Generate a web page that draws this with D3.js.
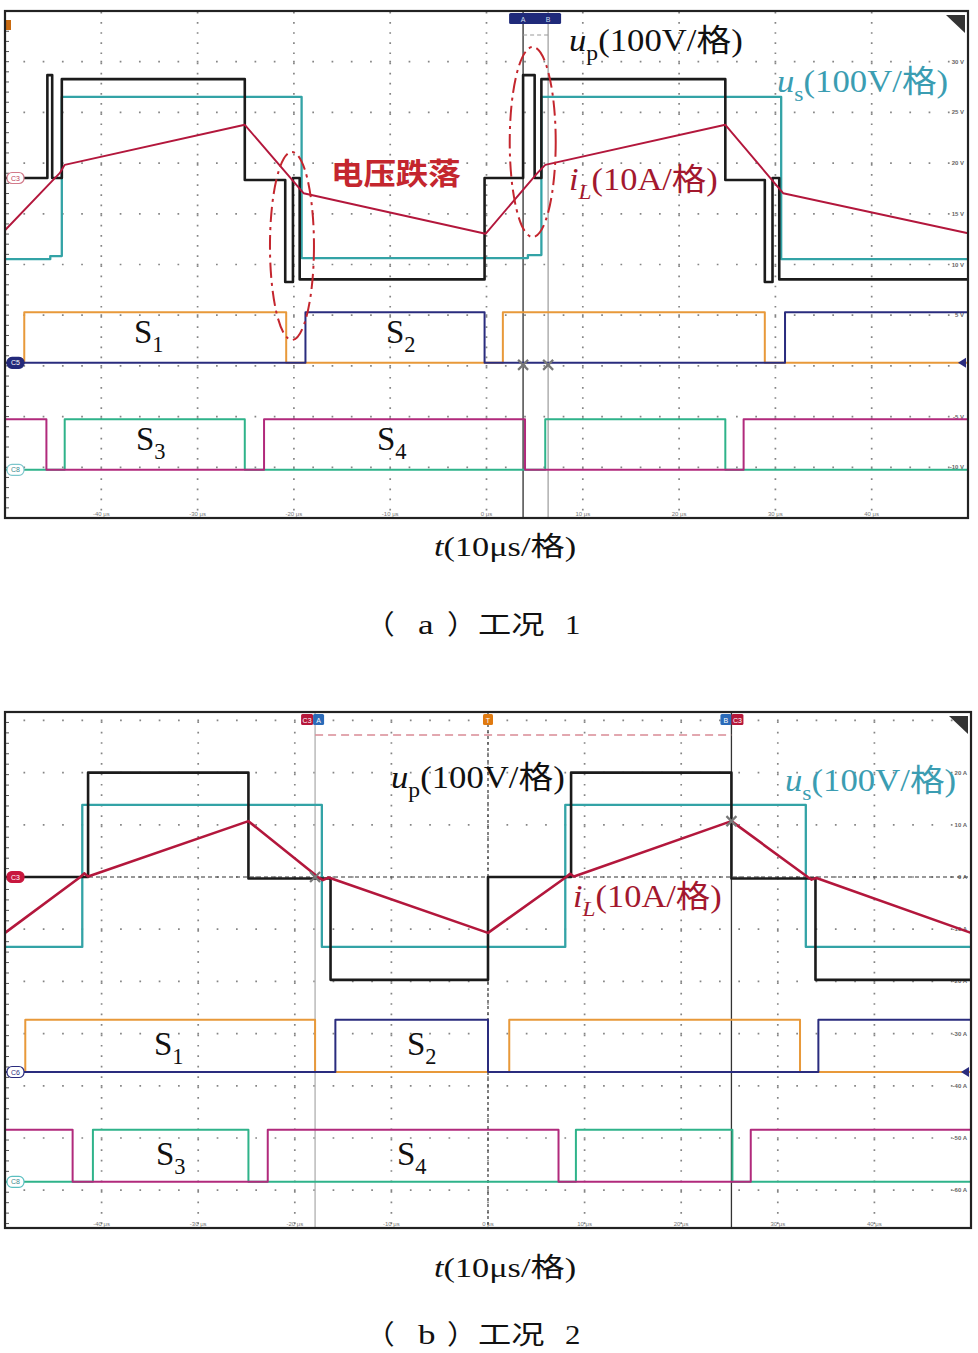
<!DOCTYPE html>
<html><head><meta charset="utf-8">
<script src="https://cdn.jsdelivr.net/npm/d3@7"></script>
<style>body{margin:0;background:#fff}svg{display:block}</style>
</head><body>
<svg id="c" width="978" height="1353"></svg>
<script>
// ================= DATA =================
// time axis: 10 μs per division, 10 divisions
const timeDomain = [0, 100];
const gridTimes = [10, 20, 30, 40, 50, 60, 70, 80, 90];
const timeTickLabels = ["-40 μs","-30 μs","-20 μs","-10 μs","0 μs","10 μs","20 μs","30 μs","40 μs"];

// ---- Case 1 (a) ----  [time μs, value]
const upA  = [[0,0],[4.4,203],[4.9,0],[5.9,195],[24.9,-4],[29.1,-205],[29.9,0],[30.6,-200],[49.8,0],[53.8,203],[55.0,0],[55.7,195],[74.8,-4],[78.9,-205],[79.7,0],[80.4,-200],[100,-200]];
const usA  = [[0,-160],[4.7,-154],[5.9,160],[30.8,-158],[54.3,-152],[55.7,160],[80.6,-160],[100,-160]];
const iLA  = [[0,-10.3],[5.7,1.0],[6.2,2.6],[24.9,10.5],[31.0,-3.0],[49.9,-11.0],[55.3,1.0],[56.1,2.6],[74.8,10.5],[80.8,-3.0],[100,-10.9]];
const S1A = [[2.0,29.2],[51.7,78.9]];
const S2A = [[31.2,49.8],[81.0,100]];
const S3A = [[6.2,24.9],[56.1,74.8]];
const S4A = [[0,4.3],[26.9,54.0],[76.7,100]];
const cursorsA = [53.8, 56.4];
const dropMarksA = [[29.8, -13.4], [54.8, 7.1]]; // [time μs, iL-scale centre] of the dash-dot ellipses
const rightLabelsA = [[4,"30 V"],[3,"25 V"],[2,"20 V"],[1,"15 V"],[0,"10 V"],[-1,"5 V"],[-3,"-5 V"],[-4,"-10 V"]];

// ---- Case 2 (b) ----
const upB  = [[0,0],[8.6,200],[25.2,-3],[33.7,-197],[50.0,0],[58.6,200],[75.2,-3],[83.9,-197],[100,-197]];
const usB  = [[0,-134],[8.0,138],[32.8,-134],[58.0,138],[82.9,-134],[100,-134]];
const iLB  = [[0,-10.7],[7.8,0],[8.2,0.7],[8.6,0.1],[25.2,10.7],[32.4,0],[32.9,-0.6],[33.5,-0.1],[50.0,-10.7],[58.1,0],[58.5,0.6],[58.9,0.1],[75.2,10.7],[83.1,0],[83.5,-0.5],[84.0,-0.2],[100,-10.7]];
const S1B = [[2.1,32.1],[52.2,82.3]];
const S2B = [[34.2,50.0],[84.2,100]];
const S3B = [[9.1,25.2],[59.1,75.3]];
const S4B = [[0,7.0],[27.2,57.3],[77.2,100]];
const cursorsB = [32.1, 75.2];
const triggerB = 50;
const rightLabelsB = [[3,"20 A"],[2,"10 A"],[1,"0 A"],[0,"-10 A"],[-1,"-20 A"],[-2,"-30 A"],[-3,"-40 A"],[-4,"-50 A"],[-5,"-60 A"]];

// ================= STYLE =================
const COL = {up:"#1b1b1b", us:"#33a3a6", iL:"#b3173c", S1:"#e8993a", S2:"#2a2c7e", S3:"#2fb38a", S4:"#b12a7c",
  usText:"#3b9db2", iLText:"#a3182e", drop:"#c4262e", grid:"#858585"};
const SERIF = "'Liberation Serif','Noto Sans CJK SC',serif";

const svg = d3.select("#c");

function gatePoints(iv){
  const pts = [[0, iv[0][0] <= 0 ? 1 : 0]];
  iv.forEach(([a,b]) => { if (a > 0) pts.push([a,1]); if (b < 100) pts.push([b,0]); });
  pts.push([100, pts[pts.length-1][1]]);
  return pts;
}

function richText(g, x, y, size, sx, color, parts, anchor){
  const t = g.append("text").attr("transform", `translate(${x},${y}) scale(${sx},1)`)
    .attr("font-family", SERIF).attr("font-size", size).attr("fill", color)
    .attr("text-anchor", anchor || "start");
  let shifted = 0;
  parts.forEach(p => {
    const ts = t.append("tspan").text(p.t);
    if (p.i) ts.attr("font-style", "italic");
    if (p.sub) { ts.attr("font-size", size*0.68).attr("dy", size*0.28); shifted = size*0.28; }
    else if (shifted) { ts.attr("dy", -shifted); shifted = 0; }
    if (p.b) ts.attr("font-weight", 700);
  });
  return t;
}

function tag(g, x, y, label, fill, stroke, txt){
  g.append("rect").attr("x", x).attr("y", y-5.5).attr("width", 17).attr("height", 11).attr("rx", 5)
    .attr("fill", fill).attr("stroke", stroke).attr("stroke-width", 1.2);
  g.append("text").attr("x", x+8.5).attr("y", y+2.5).attr("text-anchor","middle")
    .attr("font-family","Liberation Sans").attr("font-size", 7).attr("fill", txt).text(label);
}

function panel(cfg){
  const g = svg.append("g");
  const x = d3.scaleLinear().domain(timeDomain).range([cfg.x0, cfg.x1]);
  const scr = d3.scaleLinear().domain([-5, 5]).range(cfg.yRange); // screen divisions
  const divH = Math.abs(scr(1) - scr(0)), divW = x(10) - x(0);
  const chan = (off, perDiv) => (v => scr(off + v / perDiv));
  const yUp = chan(cfg.c3, 100), yI = chan(cfg.c3, 10);
  const yG5 = chan(cfg.c5, 1), yG8 = chan(cfg.c8, 1);

  // dotted graticule
  gridTimes.forEach(t => {
    g.append("line").attr("x1", x(t)).attr("x2", x(t)).attr("y1", cfg.top).attr("y2", cfg.bottom)
      .attr("stroke", COL.grid).attr("stroke-width", 1.7)
      .attr("stroke-dasharray", `1.7,${divH/5-1.7}`).attr("stroke-dashoffset", -(scr(cfg.rows[0]) - cfg.top) % (divH/5) - 0.85 + (divH/5));
  });
  cfg.rows.forEach(r => {
    g.append("line").attr("x1", cfg.x0).attr("x2", cfg.x1).attr("y1", scr(r)).attr("y2", scr(r))
      .attr("stroke", COL.grid).attr("stroke-width", 1.7)
      .attr("stroke-dasharray", `1.7,${divW/5-1.7}`).attr("stroke-dashoffset", 0.85);
  });
  // left ruler ticks
  d3.range(cfg.top, cfg.bottom, divH/5).forEach(yy => {
    g.append("line").attr("x1", cfg.x0).attr("x2", cfg.x0+4).attr("y1", yy).attr("y2", yy)
      .attr("stroke", "#555").attr("stroke-width", 1);
  });
  // bottom tick labels
  gridTimes.forEach((t,i) => {
    g.append("text").attr("x", x(t)).attr("y", cfg.bottom - 2).attr("text-anchor","middle")
      .attr("font-family","Liberation Sans").attr("font-size", 6).attr("fill", "#777").text(timeTickLabels[i]);
  });
  // right scale labels
  cfg.rightLabels.forEach(([r, s]) => {
    g.append("text").attr("x", cfg.x1 - 4).attr("y", scr(r) + 2).attr("text-anchor","end")
      .attr("font-family","Liberation Sans").attr("font-size", 6).attr("font-weight",700).attr("fill", "#666").text(s);
  });

  if (cfg.extra) cfg.extra(g, x, scr, yUp, yI);

  const stepLine = (yf) => d3.line().x(d => x(d[0])).y(d => yf(d[1])).curve(d3.curveStepAfter);
  const linLine = (yf) => d3.line().x(d => x(d[0])).y(d => yf(d[1]));
  const draw = (data, gen, color, w) => g.append("path").attr("d", gen(data)).attr("fill","none")
    .attr("stroke", color).attr("stroke-width", w).attr("stroke-linejoin","round");

  // gate signals
  draw(gatePoints(cfg.S1), stepLine(yG5), COL.S1, 2);
  draw(gatePoints(cfg.S2), stepLine(yG5), COL.S2, 2);
  draw(gatePoints(cfg.S3), stepLine(yG8), COL.S3, 2);
  draw(gatePoints(cfg.S4), stepLine(yG8), COL.S4, 2);
  // power traces
  draw(cfg.us, stepLine(yUp), COL.us, 2.3);
  draw(cfg.up, stepLine(yUp), COL.up, 2.6);
  draw(cfg.iL, linLine(yI), COL.iL, cfg.iLw);

  // channel tags
  cfg.tags.forEach(([lab, off, fill, stroke, txt]) => tag(g, cfg.x0 + 2, scr(off), lab, fill, stroke, txt));
  const ay = scr(cfg.c5);
  g.append("path").attr("d", `M${cfg.x1-2},${ay-5} L${cfg.x1-10},${ay} L${cfg.x1-2},${ay+5}Z`).attr("fill", COL.S2);
  g.append("path").attr("d", `M${cfg.x1-22},${cfg.top+4} L${cfg.x1-3},${cfg.top+4} L${cfg.x1-3},${cfg.top+22}Z`).attr("fill", "#333");

  // border
  g.append("rect").attr("x", cfg.x0).attr("y", cfg.top).attr("width", cfg.x1 - cfg.x0).attr("height", cfg.bottom - cfg.top)
    .attr("fill","none").attr("stroke","#222").attr("stroke-width", 2.2);

  if (cfg.labels) cfg.labels(g, x, scr, yUp, yI, yG5, yG8);
  return g;
}

function xMark(g, cx, cy){
  g.append("path").attr("d", `M${cx-5},${cy-5}L${cx+5},${cy+5}M${cx-5},${cy+5}L${cx+5},${cy-5}`)
    .attr("stroke", "#777").attr("stroke-width", 2.2);
}

function boxMark(g, x, y, w, fill, lab){
  g.append("rect").attr("x", x).attr("y", y).attr("width", w).attr("height", 11).attr("fill", fill).attr("rx", 1.5);
  g.append("text").attr("x", x + w/2).attr("y", y + 8.5).attr("text-anchor","middle")
    .attr("font-family","Liberation Sans").attr("font-size", 7).attr("fill","#fff").text(lab);
}

// ---------- Panel (a) ----------
panel({
  x0: 5, x1: 968, top: 11, bottom: 518, yRange: [518, 11], rows: [4,3,2,1,0,-1,-2,-3,-4],
  c3: 1.706, c5: -1.94, c8: -4.05,
  up: upA, us: usA, iL: iLA, iLw: 1.9, S1: S1A, S2: S2A, S3: S3A, S4: S4A,
  rightLabels: rightLabelsA,
  tags: [["C3", 1.706, "#fff", "#d27a8a", "#c0405a"], ["C5", -1.94, "#23297a", "#23297a", "#fff"], ["C8", -4.05, "#fff", "#7cc6cc", "#3a8a90"]],
  extra: (g, x, scr) => {
    g.append("line").attr("x1", x(cursorsA[0])).attr("x2", x(cursorsA[0])).attr("y1", 11).attr("y2", 518).attr("stroke", "#555").attr("stroke-width", 1.6);
    g.append("line").attr("x1", x(cursorsA[1])).attr("x2", x(cursorsA[1])).attr("y1", 11).attr("y2", 518).attr("stroke", "#aaa").attr("stroke-width", 1.4);
    g.append("line").attr("x1", x(cursorsA[0])).attr("x2", x(cursorsA[1])).attr("y1", 35).attr("y2", 35).attr("stroke", "#999").attr("stroke-width", 1).attr("stroke-dasharray", "4,3");
    boxMark(g, x(cursorsA[0]) - 14, 13, 52, "#1f2a7a", "");
    ["A","B"].forEach((s,i) => g.append("text").attr("x", x(cursorsA[i])).attr("y", 21.5).attr("text-anchor","middle")
      .attr("font-family","Liberation Sans").attr("font-size", 7).attr("fill","#cde").text(s));
    g.append("rect").attr("x", 6).attr("y", 20).attr("width", 5).attr("height", 10).attr("fill", "#c96a10");
  },
  labels: (g, x, scr, yUp, yI, yG5, yG8) => {
    xMark(g, x(cursorsA[0]), yG5(0) + 2);
    xMark(g, x(cursorsA[1]), yG5(0) + 2);
    dropMarksA.forEach(([t, v], i) => {
      g.append("ellipse").attr("cx", x(t)).attr("cy", yI(v)).attr("rx", 22 + i).attr("ry", 94 + i)
        .attr("fill","none").attr("stroke", COL.drop).attr("stroke-width", 2).attr("stroke-dasharray", "15,5,3,5");
    });
    richText(g, 569, 51, 31, 1.12, "#111", [{t:"u", i:true},{t:"p", sub:true},{t:"(100V/格)"}]);
    richText(g, 777, 92, 31, 1.12, COL.usText, [{t:"u", i:true},{t:"s", sub:true},{t:"(100V/格)"}]);
    richText(g, 569, 190, 31, 1.11, COL.iLText, [{t:"i", i:true},{t:"L", sub:true, i:true},{t:"(10A/格)"}]);
    g.append("text").attr("transform", "translate(331,184) scale(1.08,1)").attr("font-family","'Noto Sans CJK SC'")
      .attr("font-weight", 700).attr("font-size", 30).attr("fill", COL.drop).text("电压跌落");
    richText(g, 134, 343, 33, 1.0, "#111", [{t:"S"},{t:"1", sub:true}]);
    richText(g, 386, 343, 33, 1.0, "#111", [{t:"S"},{t:"2", sub:true}]);
    richText(g, 136, 450, 33, 1.0, "#111", [{t:"S"},{t:"3", sub:true}]);
    richText(g, 377, 450, 33, 1.0, "#111", [{t:"S"},{t:"4", sub:true}]);
  }
});

// ---------- Panel (b) ----------
panel({
  x0: 5, x1: 971, top: 712, bottom: 1228, yRange: [1190.2, 1190.2 - 52.2*10], rows: [4,3,2,1,0,-1,-2,-3,-4,-5],
  c3: 1, c5: -2.736, c8: -4.84,
  up: upB, us: usB, iL: iLB, iLw: 2.6, S1: S1B, S2: S2B, S3: S3B, S4: S4B,
  rightLabels: rightLabelsB,
  tags: [["C3", 1, "#c8173e", "#c8173e", "#fff"], ["C6", -2.736, "#fff", "#2a2c7e", "#2a2c7e"], ["C8", -4.84, "#fff", "#5abfc0", "#3a8a90"]],
  extra: (g, x, scr, yUp, yI) => {
    g.append("line").attr("x1", 5).attr("x2", 971).attr("y1", yI(0)).attr("y2", yI(0)).attr("stroke", "#333").attr("stroke-width", 1).attr("stroke-dasharray", "4,3");
    g.append("line").attr("x1", x(triggerB)).attr("x2", x(triggerB)).attr("y1", 712).attr("y2", 1228).attr("stroke", "#444").attr("stroke-width", 1.3).attr("stroke-dasharray", "3,3");
    g.append("line").attr("x1", x(cursorsB[0])).attr("x2", x(cursorsB[0])).attr("y1", 712).attr("y2", 1228).attr("stroke", "#b5b5b5").attr("stroke-width", 1.4);
    g.append("line").attr("x1", x(cursorsB[1])).attr("x2", x(cursorsB[1])).attr("y1", 712).attr("y2", 1228).attr("stroke", "#333").attr("stroke-width", 1.3);
    g.append("line").attr("x1", x(cursorsB[0])).attr("x2", x(cursorsB[1])).attr("y1", 735).attr("y2", 735).attr("stroke", "#d98a95").attr("stroke-width", 1.3).attr("stroke-dasharray", "8,5");
    boxMark(g, x(cursorsB[0]) - 14, 714, 12, "#b5173a", "C3");
    boxMark(g, x(cursorsB[0]) - 2, 714, 11, "#2a6ab8", "A");
    boxMark(g, x(triggerB) - 5, 714, 10, "#e07a10", "T");
    boxMark(g, x(cursorsB[1]) - 11, 714, 11, "#2a6ab8", "B");
    boxMark(g, x(cursorsB[1]), 714, 12, "#b5173a", "C3");
  },
  labels: (g, x, scr, yUp, yI) => {
    xMark(g, x(cursorsB[0]), yI(0));
    xMark(g, x(cursorsB[1]), yI(10.7));
    richText(g, 391, 788, 31, 1.12, "#111", [{t:"u", i:true},{t:"p", sub:true},{t:"(100V/格)"}]);
    richText(g, 785, 791, 31, 1.12, COL.usText, [{t:"u", i:true},{t:"s", sub:true},{t:"(100V/格)"}]);
    richText(g, 573, 907, 31, 1.11, COL.iLText, [{t:"i", i:true},{t:"L", sub:true, i:true},{t:"(10A/格)"}]);
    richText(g, 154, 1055, 33, 1.0, "#111", [{t:"S"},{t:"1", sub:true}]);
    richText(g, 407, 1055, 33, 1.0, "#111", [{t:"S"},{t:"2", sub:true}]);
    richText(g, 156, 1165, 33, 1.0, "#111", [{t:"S"},{t:"3", sub:true}]);
    richText(g, 397, 1165, 33, 1.0, "#111", [{t:"S"},{t:"4", sub:true}]);
  }
});

// ---------- captions ----------
const cap = svg.append("g");
[[556, 634, "a", "1"], [1277, 1344, "b", "2"]].forEach(([yb, y2, letter, n]) => {
  richText(cap, 434, yb, 27, 1.27, "#111", [{t:"t", i:true},{t:"(10μs/格)"}]);
  const cjk = "'Noto Sans CJK SC'";
  cap.append("text").attr("transform", `translate(365,${y2}) scale(1.1,1)`).attr("font-family", cjk).attr("font-size", 27).attr("fill", "#111").text("（");
  cap.append("text").attr("transform", `translate(418,${y2}) scale(1.25,1)`).attr("font-family", SERIF).attr("font-size", 28).attr("fill", "#111").text(letter);
  cap.append("text").attr("transform", `translate(447,${y2}) scale(1.1,1)`).attr("font-family", cjk).attr("font-size", 27).attr("fill", "#111").text("）");
  cap.append("text").attr("transform", `translate(478,${y2}) scale(1.28,1)`).attr("font-family", cjk).attr("font-size", 26).attr("fill", "#111").text("工况");
  cap.append("text").attr("transform", `translate(565,${y2}) scale(1.1,1)`).attr("font-family", SERIF).attr("font-size", 28).attr("fill", "#111").text(n);
});
</script>
</body></html>
